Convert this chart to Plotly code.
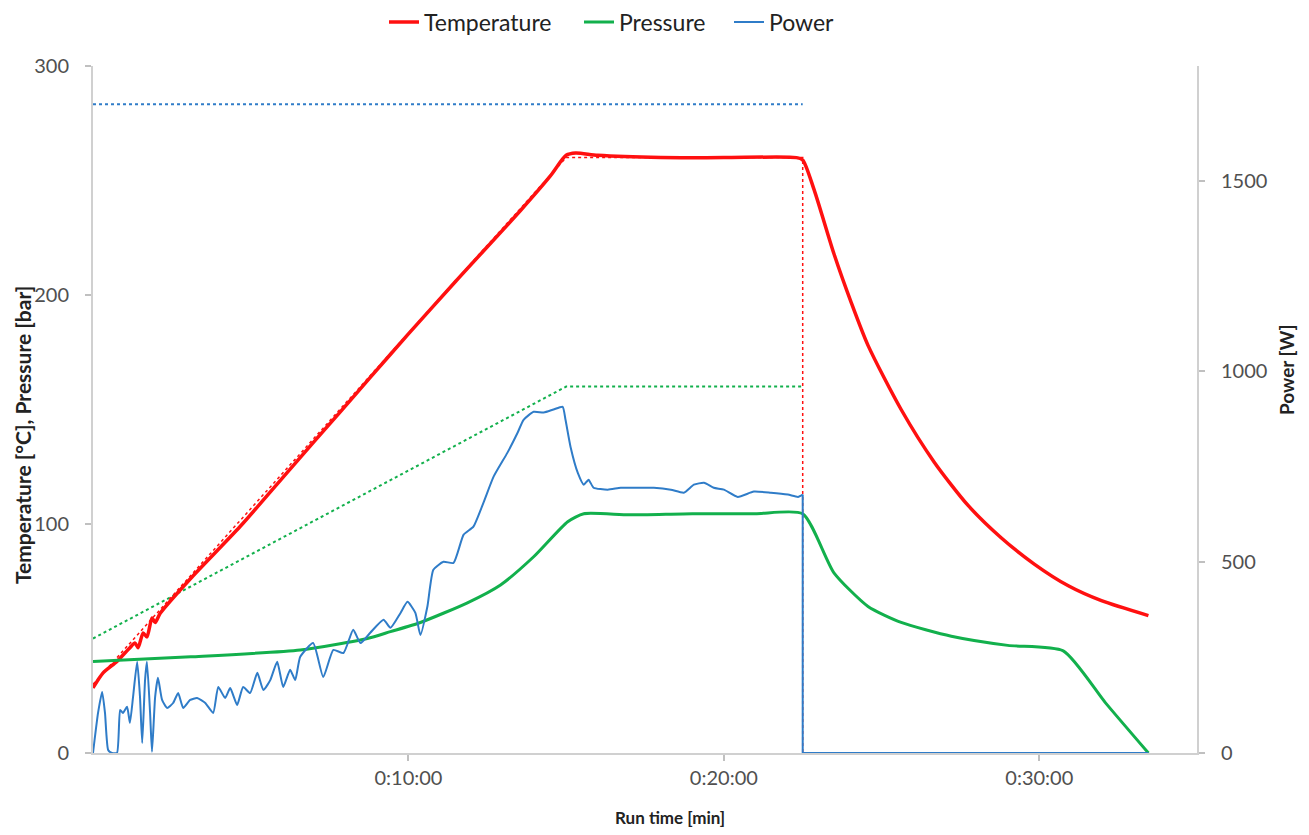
import plotly.graph_objects as go

# ---------------- data (minutes) ----------------
temp_t = [0, 0.32, 0.76, 1.17, 1.33, 1.43, 1.59, 1.71, 1.87, 1.97, 2.13, 3.08, 4.67, 6.25, 7.84, 8.79,
          10.0, 11.5, 13.56, 14.5, 15.0, 15.3, 16.0, 18.0, 20.0, 22.3, 22.5,
          22.86, 23.49, 24.03, 24.57, 25.62, 26.67, 27.75, 28.79, 29.84, 30.92, 31.97, 33.46]
temp_v = [28.4, 35, 40, 46, 48, 46, 52.4, 50.7, 59, 57, 61, 76, 99, 124, 149, 164,
          183, 206, 237, 252, 261, 262, 261, 260, 260, 260, 259,
          246, 218, 197, 178, 150, 127, 108, 94, 82.5, 73, 66.5, 60]

pres_t = [0, 3.1, 6.57, 8.7, 9.43, 10.38, 11.87, 12.92, 13.97, 15.05, 15.56, 17.0, 19.0, 21.0, 22.5,
          23.49, 24.57, 25.62, 27.21, 29.0, 30.76, 32.1, 33.46]
pres_v = [40, 42, 45, 50, 53, 57, 65.6, 73.4, 85.7, 101, 104.5, 104, 104.5, 104.5, 104.5,
          78.7, 64, 57, 51, 47, 44.6, 21.9, 0]

# power while heating (until switch-off)
power_t = [0, 0.16, 0.29, 0.38, 0.48, 0.60, 0.76, 0.86, 0.95, 1.08, 1.17, 1.27, 1.40, 1.49, 1.56, 1.65,
           1.71, 1.81, 1.87, 1.97, 2.06, 2.19, 2.35, 2.54, 2.70, 2.86, 3.08, 3.30, 3.56, 3.81, 3.97,
           4.19, 4.35, 4.57, 4.76, 4.98, 5.21, 5.40, 5.62, 5.84, 6.03, 6.25, 6.41, 6.57, 6.98, 7.30,
           7.62, 7.94, 8.25, 8.48, 8.79, 9.21, 9.43, 9.75, 9.97, 10.22, 10.38, 10.60, 10.79, 11.11,
           11.43, 11.75, 12.06, 12.38, 12.70, 13.14, 13.46, 13.65, 13.97, 14.29, 14.60, 14.89, 14.98,
           15.14, 15.37, 15.56, 15.71, 15.87, 16.32, 16.73, 17.27, 17.78, 18.32, 18.73, 19.05, 19.37,
           19.68, 20.00, 20.44, 20.95, 21.49, 22.03, 22.35, 22.5]
power_v = [0, 105, 160, 105, 8, 0, 0, 113, 105, 121, 79, 147, 239, 147, 26, 191,
           239, 105, 3, 147, 197, 139, 118, 131, 157, 118, 139, 144, 131, 105, 173,
           144, 170, 126, 173, 157, 210, 165, 191, 239, 173, 218, 191, 252, 288, 199,
           270, 262, 323, 288, 315, 349, 328, 367, 396, 367, 309, 383, 480, 501,
           498, 572, 593, 656, 724, 787, 839, 873, 894, 892, 900, 907, 873,
           802, 734, 703, 716, 695, 690, 695, 695, 695, 690, 682, 703, 708,
           695, 690, 671, 685, 682, 677, 671, 677]
# power after switch-off
power_off_t = [22.5, 22.5, 33.46]
power_off_v = [677, 0, 0]

# set-points (dotted)
temp_sp_t = [0, 15, 22.5, 22.5]
temp_sp_v = [30, 260, 260, 0]
pres_sp_t = [0, 15, 22.5]
pres_sp_v = [50, 160, 160]
power_sp_t = [0, 22.5]
power_sp_v = [1700, 1700]

x_tickvals = [10, 20, 30]
x_ticktext = ["0:10:00", "0:20:00", "0:30:00"]

RED = "#ff1010"
GREEN = "#12b04c"
BLUE = "#2f7cc8"

fig = go.Figure()
fig.add_trace(go.Scatter(x=power_sp_t, y=power_sp_v, yaxis="y2", mode="lines",
                         line=dict(color=BLUE, width=2, dash="dot"), showlegend=False, hoverinfo="skip"))
fig.add_trace(go.Scatter(x=pres_sp_t, y=pres_sp_v, mode="lines",
                         line=dict(color=GREEN, width=2, dash="dot"), showlegend=False, hoverinfo="skip"))
fig.add_trace(go.Scatter(x=temp_sp_t, y=temp_sp_v, mode="lines",
                         line=dict(color=RED, width=1.5, dash="dot"), showlegend=False, hoverinfo="skip"))
fig.add_trace(go.Scatter(x=temp_t, y=temp_v, mode="lines", name="Temperature", legend="legend",
                         line=dict(color=RED, width=3.5, shape="spline", smoothing=0.7)))
fig.add_trace(go.Scatter(x=pres_t, y=pres_v, mode="lines", name="Pressure", legend="legend2",
                         line=dict(color=GREEN, width=3, shape="spline", smoothing=0.6)))
fig.add_trace(go.Scatter(x=power_t, y=power_v, yaxis="y2", mode="lines", name="Power", legend="legend3",
                         line=dict(color=BLUE, width=2, shape="spline", smoothing=0.5)))
fig.add_trace(go.Scatter(x=power_off_t, y=power_off_v, yaxis="y2", mode="lines", showlegend=False,
                         line=dict(color=BLUE, width=2)))

tickfont = dict(family="Lato", size=20, color="#505050")
axis_line = dict(showline=True, linecolor="#d0d0d0", linewidth=2, showgrid=False, zeroline=False,
                 ticks="outside", ticklen=6, tickcolor="#c0c0c0", tickwidth=1.5, automargin=False)

# page body has an 8px margin, so the figure is sized to fit the 1309x835 window
FIG_W, FIG_H = 1301, 827
legfont = dict(family="Lato", size=23, color="#222222")
def leg(xpx):
    return dict(orientation="h", x=(xpx - 93) / 1104, xanchor="left", yref="container",
                y=1 - 14 / FIG_H, yanchor="middle", font=legfont, itemwidth=30,
                bgcolor="rgba(0,0,0,0)", borderwidth=0)

fig.update_layout(
    width=FIG_W, height=FIG_H,
    margin=dict(l=85, r=112, t=58, b=82, autoexpand=False),
    paper_bgcolor="white", plot_bgcolor="white",
    font=dict(family="Lato"),
    xaxis=dict(range=[0, 35], tickvals=x_tickvals, ticktext=x_ticktext, tickfont=tickfont, **axis_line),
    yaxis=dict(range=[0, 300], tickvals=[0, 100, 200, 300], tickfont=tickfont, ticklabelstandoff=12,
               **axis_line),
    yaxis2=dict(range=[0, 1800], tickvals=[0, 500, 1000, 1500], overlaying="y", side="right",
                tickfont=tickfont, ticklabelstandoff=12, **axis_line),
    legend=leg(384), legend2=leg(579), legend3=leg(729),
    showlegend=True,
)

fig.add_annotation(text="<b>Temperature [°C], Pressure [bar]</b>", xref="paper", yref="paper",
                   x=(22 - 93) / 1104, y=(753 - 435) / 687, textangle=-90, showarrow=False,
                   font=dict(family="Lato", size=21, color="#222222"), xanchor="center", yanchor="middle")
fig.add_annotation(text="<b>Power [W]</b>", xref="paper", yref="paper",
                   x=(1287 - 93) / 1104, y=(753 - 370) / 687, textangle=-90, showarrow=False,
                   font=dict(family="Lato", size=19, color="#222222"), xanchor="center", yanchor="middle")
fig.add_annotation(text="<b>Run time [min]</b>", xref="paper", yref="paper",
                   x=(670 - 93) / 1104, y=(753 - 817) / 687, showarrow=False,
                   font=dict(family="Lato", size=17, color="#222222"), xanchor="center", yanchor="middle")

fig.write_html("out.html")
